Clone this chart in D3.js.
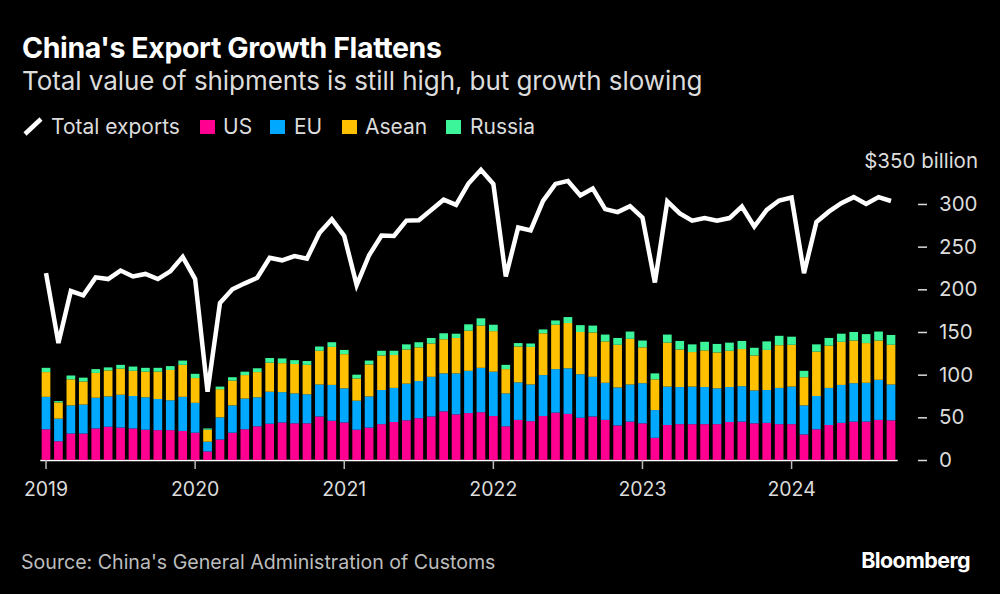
<!DOCTYPE html>
<html>
<head>
<meta charset="utf-8">
<script src="https://cdn.jsdelivr.net/npm/d3@7"></script>
<style>
  html, body { margin: 0; padding: 0; background: #000; }
  svg { display: block; font-family: Inter, "Liberation Sans", sans-serif; }
  .axis text { font-family: Inter, "Liberation Sans", sans-serif; }
</style>
</head>
<body>
<div id="chart"></div>
<script>
// one entry per month, Jan 2019 to Sep 2024
var years = ["2019", "2020", "2021", "2022", "2023", "2024"];
var months = [];
years.forEach(function(y) {
  for (var m = 1; m <= 12; m++) {
    if (y === "2024" && m > 9) break;
    months.push(y + "-" + m);
  }
});

// $ billion
var total = [219, 137, 198, 193, 214, 212, 222, 215, 218, 212, 221, 238,
  212, 80, 184, 200, 207, 213.5, 237, 234, 239, 236, 266, 282,
  262.5, 205, 240, 263, 262.5, 280.5, 281, 293, 305, 299, 324, 340,
  323.5, 215, 272.5, 269, 303.5, 323.5, 327, 310, 318, 294, 290.5, 297.5,
  284, 208, 303, 289, 280.5, 283.5, 280.5, 283.5, 297, 273.5, 293, 304,
  307.5, 219, 279, 291, 301, 308, 300, 308, 303.5];
var us = [36, 22, 31, 31, 37, 39, 38, 37, 35.5, 35, 35, 34,
  32, 10, 24, 32, 36, 39.5, 42.5, 44, 43, 43, 51, 46,
  44, 35.5, 38, 42, 44.5, 46.5, 49, 51, 57, 53.5, 55, 56,
  51.5, 39.5, 47, 45.5, 51.5, 55.5, 54, 49.5, 51, 47, 40.5, 45,
  43, 26, 41, 42, 42, 42, 42, 44.5, 45, 43, 43.5, 42,
  42, 30, 36, 41, 43.5, 45, 45, 47, 46.5];
var eu = [38, 26.5, 33, 34, 36, 35.5, 38.5, 38, 38, 36.5, 35, 40,
  35, 11.5, 26, 32, 36, 34, 37.5, 35.5, 35, 34, 37.5, 42,
  40, 34, 36.5, 40, 40, 43, 43.5, 46.5, 44.5, 48, 49.5, 52,
  52, 38.5, 44, 43, 48, 51, 53.5, 51, 46.5, 43.5, 44.5, 43.5,
  47, 32.5, 45, 43.5, 44, 43.5, 42, 41, 41.5, 38.5, 38.5, 42.5,
  44, 34, 39, 43.5, 44.5, 45, 45.5, 47, 42];
var asean = [29, 19, 30.5, 27, 29, 30.5, 30.5, 29.5, 30, 32, 35.5, 37.5,
  29, 14, 33, 29, 27.5, 29.5, 34, 34, 34.5, 34.5, 39.5, 44.5,
  40, 26, 37.5, 40.5, 38.5, 40, 39.5, 39, 40, 41.5, 47, 49.5,
  47.5, 28.5, 42, 44, 49, 52, 53, 49.5, 52, 48.5, 50, 53.5,
  42, 36, 51.5, 44, 40.5, 43, 42, 42.5, 43.5, 41, 47, 50,
  49, 33, 52, 49.5, 50.5, 50, 46.5, 46, 46.5];
var russia = [5, 1.5, 4.5, 4.5, 4.5, 3.5, 4.5, 5, 4.5, 4.5, 4.5, 5,
  5, 1.5, 3, 4, 4, 4.5, 5.5, 5.5, 4.5, 4.5, 5, 5.5,
  5, 4.5, 4.5, 5.5, 5, 6, 6, 6.5, 7, 5, 7.5, 8.5,
  7.5, 5, 4, 4, 4.5, 5, 7, 8, 8, 8, 8, 8.5,
  8, 7, 9.5, 10, 9, 10, 10, 9.5, 9.5, 9, 10, 11,
  9.5, 7.5, 8.5, 9, 9.5, 10, 10.5, 10.5, 11.5];

var seriesNames = ["US", "EU", "Asean", "Russia"];
var seriesColors = ["#ff0090", "#00a8ff", "#ffc000", "#3cf59a"];
var yTicks = [0, 50, 100, 150, 200, 250, 300];

var width = 1000, height = 594;

var svg = d3.select("#chart").append("svg")
  .attr("width", width)
  .attr("height", height);

svg.append("rect")
  .attr("width", width).attr("height", height).attr("fill", "#000");

var x = d3.scaleBand().domain(months).range([39.8, 897.2]).paddingInner(0.3).paddingOuter(0.15);
var y = d3.scaleLinear().domain([0, 350]).range([460, 161.3]);

// title block
svg.append("text").attr("x", 22).attr("y", 58)
  .attr("font-size", 28.5).attr("font-weight", 700).attr("letter-spacing", -0.38)
  .attr("fill", "#fff").text("China's Export Growth Flattens");
svg.append("text").attr("x", 22).attr("y", 90)
  .attr("font-size", 26).attr("letter-spacing", -0.07)
  .attr("fill", "#dcdcdc").text("Total value of shipments is still high, but growth slowing");

// legend
svg.append("line")
  .attr("x1", 25).attr("y1", 134).attr("x2", 41).attr("y2", 119)
  .attr("stroke", "#fff").attr("stroke-width", 4.5);
svg.append("text").attr("x", 51).attr("y", 134)
  .attr("font-size", 21).attr("fill", "#dcdcdc").text("Total exports");
var legendSwatch = [200, 270, 342, 446];
var legendText = [223, 294, 365, 470];
seriesNames.forEach(function(name, i) {
  svg.append("rect").attr("x", legendSwatch[i]).attr("y", 120)
    .attr("width", 15).attr("height", 14).attr("fill", seriesColors[i]);
  svg.append("text").attr("x", legendText[i]).attr("y", 134)
    .attr("font-size", 21).attr("fill", "#dcdcdc").text(name);
});

// bars
var rows = months.map(function(m, i) {
  return {month: m, US: us[i], EU: eu[i], Asean: asean[i], Russia: russia[i]};
});
var stacked = d3.stack().keys(seriesNames)(rows);

// x axis goes under the bars so the white line only shows in the gaps
var xAxis = d3.axisBottom(x)
  .tickValues(years.map(function(yr) { return yr + "-1"; }))
  .tickFormat(function(d) { return d.split("-")[0]; })
  .tickSizeInner(9).tickSizeOuter(0).tickPadding(13);
var gx = svg.append("g").attr("class", "axis")
  .attr("transform", "translate(0,460)")
  .call(xAxis);
gx.selectAll("path").attr("stroke", "#fff").attr("stroke-width", 1.5);
gx.selectAll("line").attr("stroke", "#bbb").attr("stroke-width", 1.5);
gx.selectAll("text").attr("font-size", 19.5).attr("fill", "#dcdcdc");

svg.append("g").selectAll("g")
  .data(stacked)
  .join("g")
    .attr("fill", function(d, i) { return seriesColors[i]; })
  .selectAll("rect")
  .data(function(d) { return d; })
  .join("rect")
    .attr("x", function(d) { return x(d.data.month); })
    .attr("width", x.bandwidth())
    .attr("y", function(d) { return y(d[1]); })
    .attr("height", function(d) { return y(d[0]) - y(d[1]); });

// total line
var line = d3.line()
  .x(function(d, i) { return x(months[i]) + x.bandwidth() / 2; })
  .y(function(d) { return y(d); });
svg.append("path")
  .datum(total)
  .attr("d", line)
  .attr("fill", "none")
  .attr("stroke", "#fff")
  .attr("stroke-width", 4.5)
  .attr("stroke-linejoin", "miter");

// y axis, on the right
var yAxis = d3.axisRight(y).tickValues(yTicks).tickSize(9).tickPadding(12);
var gy = svg.append("g").attr("class", "axis")
  .attr("transform", "translate(918,0)")
  .call(yAxis);
gy.select(".domain").remove();
gy.selectAll("line").attr("stroke", "#ddd").attr("stroke-width", 1.5);
gy.selectAll("text").attr("font-size", 20.5).attr("fill", "#dcdcdc");

svg.append("text").attr("x", 978).attr("y", y(350))
  .attr("dy", "0.34em").attr("text-anchor", "end")
  .attr("font-size", 20.5).attr("fill", "#dcdcdc").text("$350 billion");

// footer
svg.append("text").attr("x", 21).attr("y", 569)
  .attr("font-size", 19.6).attr("fill", "#bdbdbd")
  .text("Source: China's General Administration of Customs");
svg.append("text").attr("x", 970).attr("y", 568)
  .attr("text-anchor", "end").attr("font-size", 21.5).attr("font-weight", 700).attr("letter-spacing", -0.6)
  .attr("fill", "#fff").text("Bloomberg");
</script>
</body>
</html>
